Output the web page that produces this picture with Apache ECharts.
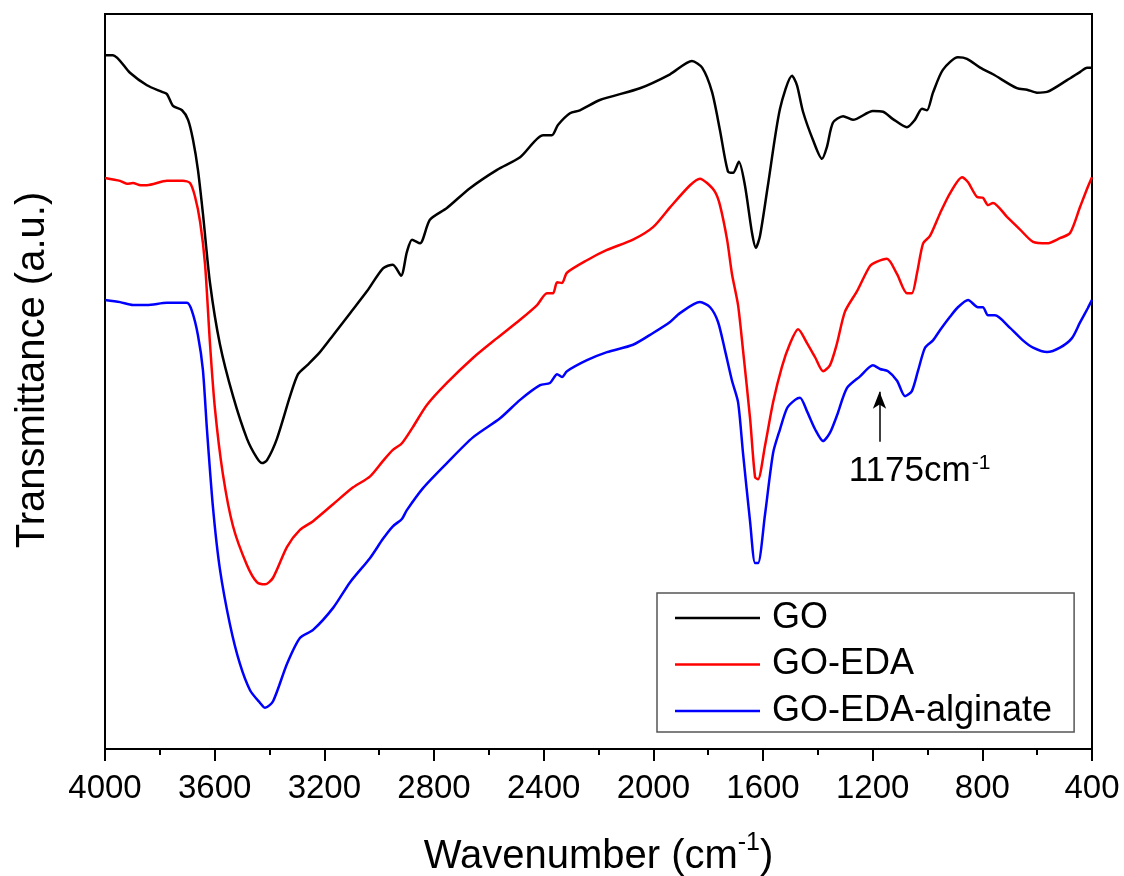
<!DOCTYPE html>
<html>
<head>
<meta charset="utf-8">
<title>FTIR spectra</title>
<script src="https://cdn.jsdelivr.net/npm/echarts@6/dist/echarts.min.js"></script>
<style>
  html, body { margin: 0; padding: 0; background: #fff; }
  #chart { width: 1124px; height: 876px; }
</style>
</head>
<body>
<div id="chart"></div>
<script>
// FTIR transmittance spectra (arbitrary units, curves offset vertically)
const seriesNames = ['GO', 'GO-EDA', 'GO-EDA-alginate'];
const xTicks = [4000, 3600, 3200, 2800, 2400, 2000, 1600, 1200, 800, 400];

// GO
const goWn = [4000, 3971, 3909, 3847, 3792, 3774, 3752, 3719, 3697, 3679, 3661, 3643, 3617, 3581, 3533, 3482, 3446, 3427, 3409, 3373, 3325, 3296, 3263, 3216, 3168, 3106, 3044, 2986, 2950, 2920, 2899, 2880, 2851, 2815, 2753, 2669, 2570, 2486, 2402, 2370, 2348, 2304, 2268, 2195, 2049, 1939, 1859, 1822, 1786, 1757, 1728, 1709, 1688, 1666, 1640, 1626, 1611, 1582, 1538, 1494, 1476, 1454, 1418, 1385, 1367, 1345, 1308, 1272, 1199, 1162, 1126, 1075, 1046, 1020, 1002, 980, 944, 889, 856, 808, 761, 674, 637, 601, 564, 491, 444, 418, 400];
const goT = [94.4, 94.4, 92.0, 90.3, 89.4, 89.1, 87.5, 86.9, 85.6, 82.9, 78.8, 72.9, 63.4, 55.1, 48.0, 42.2, 39.6, 38.9, 39.3, 42.2, 48.0, 51.0, 52.2, 54.0, 56.3, 59.3, 62.3, 65.4, 65.9, 64.4, 67.6, 69.3, 68.8, 72.0, 73.6, 76.3, 78.8, 80.5, 83.5, 83.5, 84.9, 86.5, 86.9, 88.3, 89.9, 91.8, 93.6, 92.7, 89.4, 84.2, 78.6, 78.4, 79.9, 76.7, 70.2, 68.2, 69.8, 76.7, 87.1, 91.6, 90.3, 86.7, 82.9, 80.3, 81.9, 85.2, 86.1, 85.6, 86.8, 86.7, 85.7, 84.6, 85.6, 87.1, 86.9, 89.3, 92.4, 94.1, 93.9, 92.7, 91.8, 89.9, 89.7, 89.3, 89.4, 91.0, 92.1, 92.7, 92.7];

// GO-EDA
const edaWn = [4000, 3945, 3920, 3898, 3870, 3847, 3774, 3716, 3690, 3672, 3653, 3635, 3617, 3599, 3570, 3533, 3482, 3446, 3416, 3387, 3336, 3289, 3241, 3168, 3095, 3033, 2986, 2950, 2917, 2877, 2826, 2753, 2658, 2570, 2486, 2424, 2388, 2366, 2351, 2333, 2315, 2242, 2169, 2074, 2001, 1939, 1866, 1830, 1804, 1775, 1757, 1731, 1713, 1691, 1673, 1647, 1629, 1618, 1593, 1563, 1531, 1501, 1472, 1439, 1410, 1381, 1356, 1330, 1301, 1257, 1210, 1184, 1148, 1111, 1075, 1057, 1038, 1016, 991, 954, 918, 874, 852, 819, 798, 779, 761, 710, 663, 615, 564, 517, 480, 444, 415, 400];
const edaT = [77.7, 77.3, 76.9, 77.0, 76.7, 76.7, 77.3, 77.3, 77.0, 75.2, 71.7, 65.9, 55.1, 46.3, 37.4, 30.3, 25.0, 22.7, 22.4, 23.3, 27.5, 29.8, 31.0, 33.3, 35.6, 37.1, 39.2, 40.7, 41.6, 43.8, 46.8, 49.8, 53.2, 55.9, 58.4, 60.4, 62.0, 62.0, 63.5, 63.4, 64.8, 66.5, 67.9, 69.3, 71.0, 73.7, 76.7, 77.6, 77.0, 75.8, 74.0, 69.3, 64.6, 60.4, 54.3, 44.9, 37.0, 36.7, 41.2, 47.2, 52.0, 55.2, 57.1, 55.2, 53.3, 51.4, 52.2, 55.2, 59.5, 62.3, 65.7, 66.3, 66.7, 64.6, 62.0, 62.0, 64.8, 68.8, 69.8, 72.9, 75.6, 77.8, 77.1, 75.1, 75.0, 74.0, 74.3, 72.4, 70.7, 69.0, 68.8, 69.5, 70.2, 73.7, 76.5, 77.8];

// GO-EDA-alginate
const algWn = [4000, 3945, 3898, 3847, 3774, 3701, 3683, 3661, 3643, 3628, 3606, 3581, 3544, 3508, 3471, 3435, 3416, 3387, 3336, 3289, 3241, 3168, 3106, 3033, 2986, 2950, 2917, 2899, 2840, 2753, 2658, 2559, 2486, 2413, 2377, 2351, 2333, 2315, 2242, 2169, 2074, 2001, 1939, 1903, 1830, 1793, 1764, 1739, 1713, 1691, 1673, 1647, 1629, 1618, 1593, 1563, 1538, 1512, 1483, 1465, 1439, 1410, 1381, 1356, 1330, 1294, 1246, 1199, 1173, 1144, 1111, 1082, 1057, 1035, 1009, 980, 954, 918, 889, 852, 816, 798, 779, 754, 699, 652, 615, 564, 517, 473, 444, 415, 400];
const algT = [61.1, 60.8, 60.4, 60.4, 60.7, 60.7, 59.6, 56.3, 51.6, 43.4, 32.8, 24.5, 16.9, 11.6, 8.0, 6.3, 5.6, 6.5, 11.6, 15.1, 16.2, 19.2, 22.7, 26.0, 28.6, 30.3, 31.3, 32.5, 35.5, 38.9, 42.4, 45.0, 47.5, 49.5, 49.8, 51.0, 50.6, 51.4, 52.9, 54.0, 55.0, 56.6, 58.1, 59.3, 60.8, 60.1, 58.1, 54.3, 50.1, 47.2, 40.3, 30.9, 25.3, 25.3, 31.8, 40.3, 43.5, 46.4, 47.5, 47.8, 45.9, 43.5, 41.9, 43.0, 45.4, 49.1, 50.7, 52.2, 51.7, 51.4, 50.1, 48.0, 48.7, 51.4, 54.6, 55.6, 57.0, 58.8, 60.1, 61.1, 60.1, 60.1, 59.0, 59.0, 57.3, 55.6, 54.6, 54.0, 54.6, 55.9, 58.0, 60.0, 61.1];

// Band marker at 1175 cm-1
const bandWn = 1175;
const arrowFrom = 41.8;
const arrowTo = 48.6;
const bandLabelAt = 37.9;

const seriesColors = ['#000000', '#ff0000', '#0000ff'];
const FONT = "'Liberation Sans', Arial, Helvetica, sans-serif";

function pairs(xs, ys) { return xs.map((x, i) => [x, ys[i]]); }

const chart = echarts.init(document.getElementById('chart'), null, { renderer: 'canvas' });

const lineSeries = [
  pairs(goWn, goT),
  pairs(edaWn, edaT),
  pairs(algWn, algT)
].map((data, i) => ({
  name: seriesNames[i],
  type: 'line',
  data: data,
  symbol: 'none',
  smooth: 0.25,
  lineStyle: { color: seriesColors[i], width: 2.5 },
  itemStyle: { color: seriesColors[i] },
  z: 3 - i,
  animation: false
}));

// arrow and label for the 1175 cm-1 band
lineSeries[2].markLine = {
  silent: true,
  animation: false,
  symbol: ['none', 'arrow'],
  symbolSize: [10, 17],
  lineStyle: { color: '#000', width: 1.5, type: 'solid' },
  label: { show: false },
  data: [[{ coord: [bandWn, arrowFrom] }, { coord: [bandWn, arrowTo] }]]
};
lineSeries[2].markPoint = {
  silent: true,
  animation: false,
  symbol: 'circle',
  symbolSize: 1,
  itemStyle: { color: 'rgba(0,0,0,0)' },
  label: {
    show: true,
    position: 'inside',
    offset: [40, 0],
    formatter: '{a|' + bandWn + 'cm}{s|-1}',
    rich: {
      a: { fontFamily: FONT, fontSize: 35, color: '#000', lineHeight: 36, verticalAlign: 'bottom' },
      s: { fontFamily: FONT, fontSize: 21, color: '#000', lineHeight: 36, verticalAlign: 'top', padding: [0, 0, 0, 1] }
    }
  },
  data: [{ coord: [bandWn, bandLabelAt] }]
};

const option = {
  backgroundColor: '#ffffff',
  animation: false,
  grid: {
    left: 105, right: 32, top: 14, bottom: 127,
    outerBoundsMode: 'none',
    containLabel: false,
    show: true, borderColor: '#000', borderWidth: 2, backgroundColor: 'transparent'
  },
  xAxis: {
    type: 'value',
    min: 400, max: 4000, interval: 400,
    inverse: true,
    name: '{a|Wavenumber (cm}{s|-1}{a|)}',
    nameLocation: 'middle',
    nameGap: 82,
    nameTextStyle: {
      rich: {
        a: { fontFamily: FONT, fontSize: 40, color: '#000', lineHeight: 46, verticalAlign: 'bottom' },
        s: { fontFamily: FONT, fontSize: 25, color: '#000', lineHeight: 46, verticalAlign: 'top' }
      }
    },
    axisLine: { show: true, lineStyle: { color: '#000', width: 2 } },
    axisTick: { show: true, inside: false, length: 12, lineStyle: { color: '#000', width: 2 } },
    minorTick: { show: true, splitNumber: 2, length: 6, lineStyle: { color: '#000', width: 2 } },
    axisLabel: {
      show: true, margin: 23, color: '#000', fontFamily: FONT, fontSize: 33,
      showMinLabel: true, showMaxLabel: true,
      formatter: function (v) { return String(v); }
    },
    splitLine: { show: false },
    minorSplitLine: { show: false }
  },
  yAxis: {
    type: 'value',
    min: 0, max: 100,
    axisLine: { show: false },
    axisTick: { show: false },
    axisLabel: { show: false },
    splitLine: { show: false }
  },
  legend: {
    data: seriesNames.map((n, i) => ({ name: n, icon: 'rect', itemStyle: { color: seriesColors[i] } })),
    orient: 'vertical',
    left: 657, top: 593,
    padding: [7, 22, 3, 18],
    itemWidth: 85, itemHeight: 2.5, itemGap: 10.5,
    backgroundColor: '#fff',
    borderColor: '#555', borderWidth: 1.5, borderRadius: 0,
    selectedMode: false,
    textStyle: { fontFamily: FONT, fontSize: 36, lineHeight: 36, color: '#000', padding: [0, 0, 0, 7] }
  },
  graphic: [{
    type: 'text',
    x: 33, y: 370,
    rotation: Math.PI / 2,
    style: {
      text: 'Transmittance (a.u.)',
      fontFamily: FONT, fontSize: 40, fill: '#000',
      align: 'center', verticalAlign: 'middle'
    }
  }],
  series: lineSeries
};

chart.setOption(option);
</script>
</body>
</html>
